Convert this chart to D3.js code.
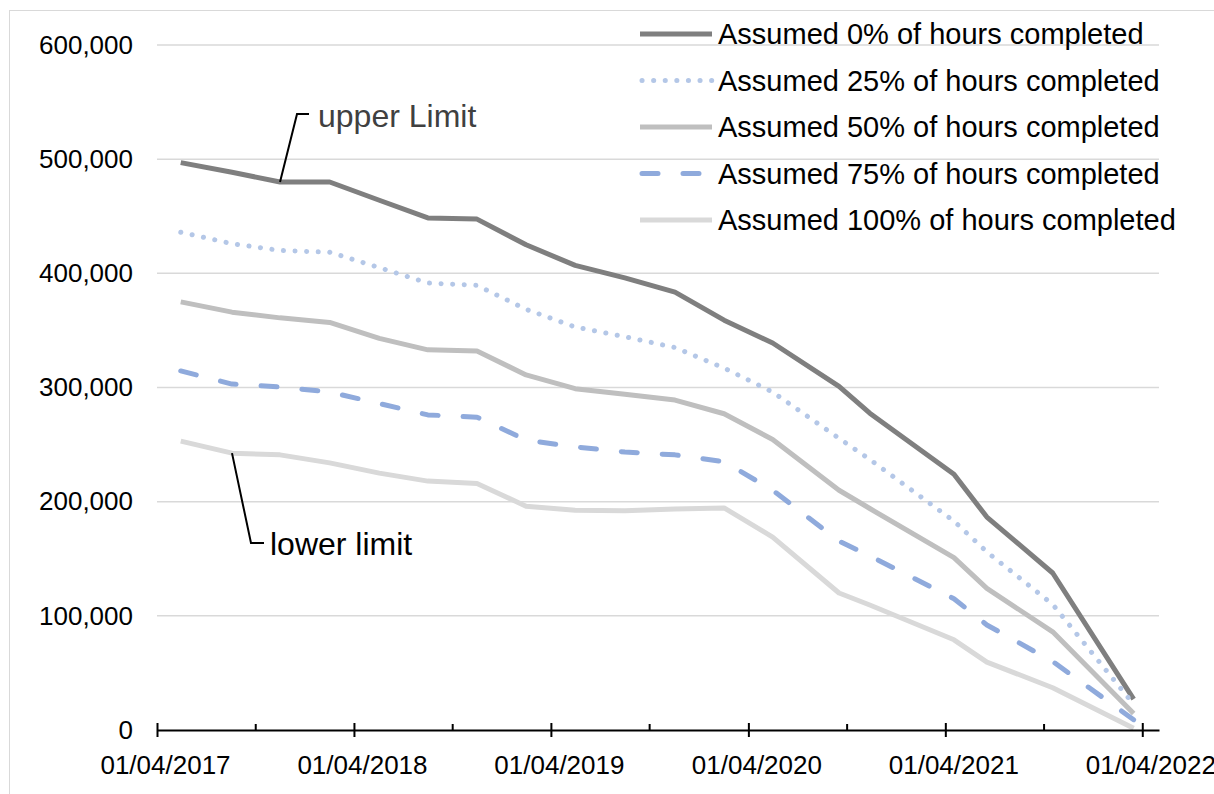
<html>
    <head>
        <meta charset="utf-8">
        <title>Assumed hours completed</title>
        <style>
        body { margin: 0; background: #fff; }
        svg text { font-family: "Liberation Sans", Arial, sans-serif; }
        .line { fill: none; stroke-linejoin: round; }
        </style>
    </head>
    <body>
        <script src="https://d3js.org/d3.v7.min.js"></script>
        <script>

            // data
            var dates = ["2017-05-15", "2017-08-18", "2017-11-15", "2018-02-15", "2018-05-18",
                         "2018-08-16", "2018-11-15", "2019-02-14", "2019-05-16", "2019-08-16",
                         "2019-11-17", "2020-02-16", "2020-05-16", "2020-09-16", "2020-11-12",
                         "2021-04-17", "2021-06-17", "2021-10-17", "2022-03-16"];
            var pct0   = [497000, 488500, 480000, 480000, 464000, 448500, 447500, 425000, 407000, 396000,
                          383500, 359000, 339000, 301000, 277500, 224000, 186500, 137500, 27000];
            var pct25  = [436000, 426000, 420000, 418500, 405000, 391500, 389500, 368500, 353000, 344500,
                          335000, 317000, 296000, 255500, 237000, 183000, 156000, 110000, 22500];
            var pct50  = [375000, 366000, 361000, 357000, 343000, 333000, 332000, 311000, 299000, 294000,
                          289000, 277000, 254500, 210000, 194000, 151000, 124000, 86000, 14500];
            var pct75  = [314500, 303000, 300500, 296000, 286000, 276000, 274000, 254000, 248000, 243500,
                          241000, 235000, 210000, 165500, 152500, 115000, 92000, 60000, 9000];
            var pct100 = [253000, 242500, 241000, 234000, 225000, 218000, 216000, 196000, 192500, 192000,
                          193500, 194500, 169000, 120000, 109500, 79000, 59500, 37000, 1500];

            var seriesNames = ["Assumed 0% of hours completed", "Assumed 25% of hours completed",
                               "Assumed 50% of hours completed", "Assumed 75% of hours completed",
                               "Assumed 100% of hours completed"];
            var yTicks = [0, 100000, 200000, 300000, 400000, 500000, 600000];
            var majorTicks = ["2017-04-01", "2018-04-01", "2019-04-01", "2020-04-01", "2021-04-01", "2022-04-01"];
            var minorTicks = ["2017-10-01", "2018-10-01", "2019-10-01", "2020-10-01", "2021-10-01"];

            var parseDate = d3.timeParse("%Y-%m-%d");
            var fmtDate = d3.timeFormat("%d/%m/%Y");

            var styles = [
                {color: "#7f7f7f", dash: null},
                {color: "#b4c7e7", dash: "0.1,11.5"},
                {color: "#bfbfbf", dash: null},
                {color: "#8faadc", dash: "16,25"},
                {color: "#d9d9d9", dash: null}
            ];

            var width = 1214, height = 794;

            var svg = d3.select("body").append("svg")
                .attr("width", width)
                .attr("height", height);

            // chart border
            svg.append("rect")
                .attr("x", 9.5).attr("y", 10.5)
                .attr("width", 1400).attr("height", 1000)
                .attr("fill", "none")
                .attr("stroke", "#d9d9d9");

            var x = d3.scaleTime()
                .domain([parseDate("2017-04-01"), parseDate("2022-05-02")])
                .range([157, 1159]);
            var y = d3.scaleLinear().domain([0, 600000]).range([730, 45]);

            // gridlines
            svg.append("g").selectAll("line")
                .data(yTicks.slice(1))
                .enter().append("line")
                .attr("x1", 157).attr("x2", 1159)
                .attr("y1", function(d) { return y(d); })
                .attr("y2", function(d) { return y(d); })
                .attr("stroke", "#d9d9d9")
                .attr("stroke-width", 1.5);

            // y axis labels
            var yAxis = svg.append("g")
                .attr("transform", "translate(157,0)")
                .call(d3.axisLeft(y).tickValues(yTicks).tickSize(0).tickPadding(24)
                    .tickFormat(d3.format(",")));
            yAxis.select(".domain").remove();
            yAxis.selectAll("text")
                .attr("font-size", 26)
                .attr("fill", "#000")
                .style("font-family", "'Liberation Sans', Arial, sans-serif");

            // series lines
            var allSeries = [pct0, pct25, pct50, pct75, pct100];
            var line = d3.line()
                .x(function(d, i) { return x(parseDate(dates[i])); })
                .y(function(d) { return y(d); });

            allSeries.forEach(function(vals, k) {
                svg.append("path")
                    .datum(vals)
                    .attr("class", "line")
                    .attr("d", line)
                    .attr("stroke", styles[k].color)
                    .attr("stroke-width", 5)
                    .attr("stroke-linecap", styles[k].dash ? "round" : "butt")
                    .attr("stroke-dasharray", styles[k].dash);
            });

            // x axis, major ticks cross the line
            var xAxis = svg.append("g")
                .attr("transform", "translate(0,730)")
                .call(d3.axisBottom(x)
                    .tickValues(majorTicks.map(parseDate))
                    .tickSizeOuter(0)
                    .tickFormat(fmtDate));
            xAxis.select(".domain").attr("stroke", "#000").attr("stroke-width", 2);
            xAxis.selectAll(".tick line")
                .attr("y1", -7).attr("y2", 7)
                .attr("stroke", "#000").attr("stroke-width", 2);
            xAxis.selectAll(".tick text")
                .attr("x", 8)
                .attr("y", 44).attr("dy", 0)
                .attr("font-size", 26)
                .attr("fill", "#000")
                .style("font-family", "'Liberation Sans', Arial, sans-serif");

            // minor ticks point inward
            svg.append("g").selectAll("line")
                .data(minorTicks.map(parseDate))
                .enter().append("line")
                .attr("x1", function(d) { return x(d); })
                .attr("x2", function(d) { return x(d); })
                .attr("y1", 730).attr("y2", 724)
                .attr("stroke", "#000").attr("stroke-width", 2);

            // annotations
            var upX = x(parseDate(dates[2])), upY = y(pct0[2]);
            svg.append("path")
                .attr("d", "M" + upX + "," + upY + "L" + (upX + 17) + ",114L" + (upX + 29) + ",114")
                .attr("fill", "none").attr("stroke", "#000").attr("stroke-width", 2);
            svg.append("text")
                .attr("x", 318).attr("y", 127)
                .attr("font-size", 32)
                .attr("fill", "#404040")
                .text("upper Limit");

            var loX = x(parseDate(dates[1])), loY = y(pct100[1]);
            svg.append("path")
                .attr("d", "M" + loX + "," + loY + "L" + (loX + 19) + ",543L" + (loX + 32) + ",543")
                .attr("fill", "none").attr("stroke", "#000").attr("stroke-width", 2);
            svg.append("text")
                .attr("x", 270).attr("y", 555)
                .attr("font-size", 32)
                .attr("fill", "#000")
                .text("lower limit");

            // legend
            var legend = svg.append("g");
            seriesNames.forEach(function(name, k) {
                var ly = 34 + k * 46.5;
                legend.append("line")
                    .attr("x1", k == 1 || k == 3 ? 642 : 640).attr("x2", 712)
                    .attr("y1", ly).attr("y2", ly)
                    .attr("stroke", styles[k].color)
                    .attr("stroke-width", 5)
                    .attr("stroke-linecap", styles[k].dash ? "round" : "butt")
                    .attr("stroke-dasharray", styles[k].dash);
                legend.append("text")
                    .attr("x", 718).attr("y", ly + 10)
                    .attr("font-size", 29)
                    .attr("fill", "#000")
                    .text(name);
            });

        </script>
    </body>
</html>
